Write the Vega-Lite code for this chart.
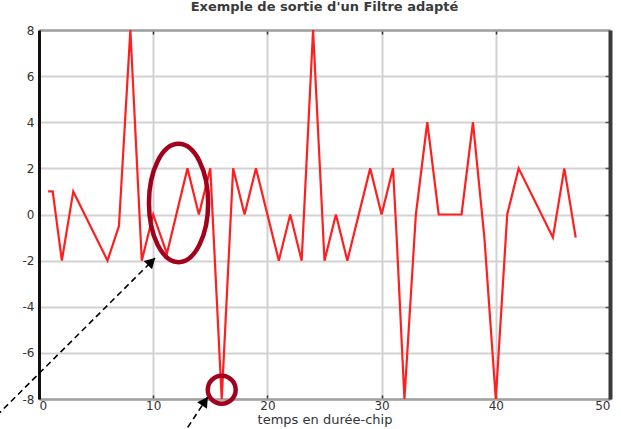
{
  "$schema": "https://vega.github.io/schema/vega-lite/v6.json",
  "width": 571,
  "height": 369,
  "autosize": "none",
  "padding": {"left": 39, "top": 30, "right": 11, "bottom": 30},
  "background": "white",
  "title": {"text": "Exemple de sortie d'un Filtre adapté", "fontSize": 13, "fontWeight": "bold", "color": "#3a3a3a", "font": "DejaVu Sans", "offset": 10},
  "config": {
    "view": {"stroke": null},
    "axis": {"labelFont": "DejaVu Sans", "titleFont": "DejaVu Sans", "labelColor": "#333", "titleColor": "#333"}
  },
  "datasets": {
    "signal": [
      {"t": 0.8, "v": 1}, {"t": 1.2, "v": 1}, {"t": 2, "v": -2}, {"t": 3, "v": 1}, {"t": 6, "v": -2}, {"t": 7, "v": -0.5},
      {"t": 8, "v": 8}, {"t": 9, "v": -2}, {"t": 10, "v": 0}, {"t": 11.2, "v": -1.7}, {"t": 13, "v": 2}, {"t": 14, "v": 0},
      {"t": 15, "v": 2}, {"t": 16, "v": -8}, {"t": 17, "v": 2}, {"t": 18, "v": 0}, {"t": 19, "v": 2}, {"t": 21, "v": -2},
      {"t": 22, "v": 0}, {"t": 23, "v": -2}, {"t": 24, "v": 8}, {"t": 25, "v": -2}, {"t": 26, "v": 0}, {"t": 27, "v": -2},
      {"t": 29, "v": 2}, {"t": 30, "v": 0}, {"t": 31, "v": 2}, {"t": 31.3, "v": -0.8}, {"t": 32, "v": -8}, {"t": 33, "v": 0},
      {"t": 34, "v": 4}, {"t": 35, "v": 0}, {"t": 37, "v": 0}, {"t": 38, "v": 4}, {"t": 39, "v": -1}, {"t": 40, "v": -8},
      {"t": 41, "v": 0}, {"t": 42, "v": 2}, {"t": 45, "v": -1}, {"t": 46, "v": 2}, {"t": 47, "v": -1}
    ],
    "arrows": [
      {"id": "a1", "x": -3.7, "y": -8.72, "x2": 10.16, "y2": -1.89, "hx": 9.85, "hy": -2.04},
      {"id": "a2", "x": 12.54, "y": -9.59, "x2": 14.77, "y2": -7.92, "hx": 14.53, "hy": -8.1}
    ],
    "ellipse": [{"x": 12.22, "y": 0.5}],
    "circle": [{"x": 16.0, "y": -7.6}]
  },
  "layer": [
    {
      "data": {"name": "signal"},
      "mark": {"type": "line", "color": "#ff1f1f", "strokeWidth": 2.2},
      "encoding": {
        "x": {"field": "t", "type": "quantitative", "scale": {"domain": [0, 50], "nice": false},
          "axis": {"orient": "bottom", "values": [0, 10, 20, 30, 40, 50], "title": "temps en durée-chip", "titleFontSize": 13, "titleFontWeight": "normal", "titlePadding": 2,
            "labelFontSize": 12, "labelPadding": 5, "ticks": true, "tickSize": -4, "tickColor": "#333", "tickWidth": 1.5,
            "domainColor": "#a0a0a0", "domainWidth": 2.5, "grid": true, "gridColor": "#d2d2d2", "gridWidth": 2}},
        "y": {"field": "v", "type": "quantitative", "scale": {"domain": [-8, 8], "nice": false},
          "axis": {"orient": "left", "values": [-8, -6, -4, -2, 0, 2, 4, 6, 8], "title": null,
            "labelFontSize": 12, "labelPadding": 5, "ticks": false, "labelExpr": "replace(datum.label, '−', '-')",
            "domainColor": "#111", "domainWidth": 3, "grid": true, "gridColor": "#d2d2d2", "gridWidth": 2}}
      }
    },
    {
      "data": {"name": "ellipse"},
      "mark": {"type": "point", "shape": "M -1 0 A 1 2 0 1 0 1 0 A 1 2 0 1 0 -1 0 Z", "size": 3500, "filled": false, "stroke": "#a3001c", "strokeWidth": 4.5, "opacity": 1},
      "encoding": {
        "x": {"field": "x", "type": "quantitative", "scale": {"domain": [0, 50], "nice": false}, "axis": {"orient": "top", "labels": false, "title": null, "grid": false, "ticks": true, "tickSize": -4, "tickColor": "#333", "tickWidth": 1.5, "values": [10, 20, 30, 40], "domainColor": "#a0a0a0", "domainWidth": 2.5}},
        "y": {"field": "y", "type": "quantitative", "scale": {"domain": [-8, 8], "nice": false}, "axis": {"orient": "right", "labels": false, "title": null, "grid": false, "ticks": true, "tickSize": -5, "tickColor": "#555", "tickWidth": 1.5, "values": [-6, -4, -2, 0, 2, 4, 6], "domainColor": "#3a3a3a", "domainWidth": 4}}
      }
    },
    {
      "data": {"name": "circle"},
      "mark": {"type": "point", "shape": "circle", "size": 780, "filled": false, "stroke": "#a3001c", "strokeWidth": 4.5, "opacity": 1},
      "encoding": {
        "x": {"field": "x", "type": "quantitative", "scale": {"domain": [0, 50], "nice": false}, "axis": null},
        "y": {"field": "y", "type": "quantitative", "scale": {"domain": [-8, 8], "nice": false}, "axis": null}
      }
    },
    {
      "data": {"name": "arrows"},
      "mark": {"type": "rule", "color": "black", "strokeWidth": 1.6, "strokeDash": [6, 4]},
      "encoding": {
        "x": {"field": "x", "type": "quantitative", "scale": {"domain": [0, 50], "nice": false}, "axis": null},
        "y": {"field": "y", "type": "quantitative", "scale": {"domain": [-8, 8], "nice": false}, "axis": null},
        "x2": {"field": "x2"},
        "y2": {"field": "y2"}
      }
    },
    {
      "data": {"name": "arrows"},
      "transform": [{"filter": "datum.id === 'a1'"}],
      "mark": {"type": "point", "shape": "triangle-up", "size": 140, "filled": true, "color": "black", "opacity": 1, "angle": 45},
      "encoding": {
        "x": {"field": "hx", "type": "quantitative", "scale": {"domain": [0, 50], "nice": false}, "axis": null},
        "y": {"field": "hy", "type": "quantitative", "scale": {"domain": [-8, 8], "nice": false}, "axis": null}
      }
    },
    {
      "data": {"name": "arrows"},
      "transform": [{"filter": "datum.id === 'a2'"}],
      "mark": {"type": "point", "shape": "triangle-up", "size": 140, "filled": true, "color": "black", "opacity": 1, "angle": 34},
      "encoding": {
        "x": {"field": "hx", "type": "quantitative", "scale": {"domain": [0, 50], "nice": false}, "axis": null},
        "y": {"field": "hy", "type": "quantitative", "scale": {"domain": [-8, 8], "nice": false}, "axis": null}
      }
    }
  ],
  "resolve": {"axis": {"x": "independent", "y": "independent"}}
}
